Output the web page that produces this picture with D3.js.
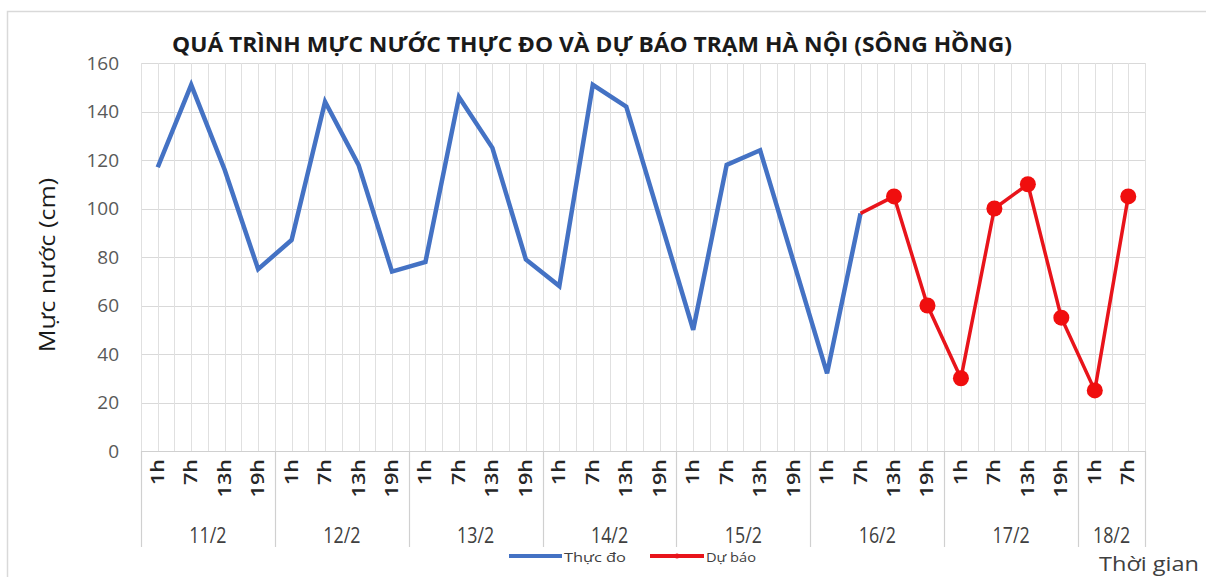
<!DOCTYPE html>
<html>
<head>
<meta charset="utf-8">
<script src="https://cdn.jsdelivr.net/npm/d3@7"></script>
<style>
  body { margin: 0; background: #fff; }
  svg { display: block; font-family: "Open Sans", sans-serif; }
</style>
</head>
<body>
<svg id="chart"></svg>
<script>
var days = ["11/2", "12/2", "13/2", "14/2", "15/2", "16/2", "17/2", "18/2"];
var hours = ["1h", "7h", "13h", "19h"];
// last day only has 1h and 7h
var hoursPerDay = [4, 4, 4, 4, 4, 4, 4, 2];

// Thực đo (observed), from 11/2 1h to 16/2 7h
var observed = [117, 151, 116, 75, 87, 144, 118, 74, 78, 146, 125, 79,
  68, 151, 142, 96, 50, 118, 124, 78, 32, 98];
// Dự báo (forecast), from 16/2 7h to 18/2 7h
var forecastStart = 21;
var forecast = [98, 105, 60, 30, 100, 110, 55, 25, 105];

var yTicks = [0, 20, 40, 60, 80, 100, 120, 140, 160];

var width = 1206, height = 577;
var svg = d3.select("#chart").attr("width", width).attr("height", height);

// build category list
var cats = [];
days.forEach(function (d, i) {
  for (var h = 0; h < hoursPerDay[i]; h++) {
    cats.push({ id: d + " " + hours[h], day: d, hour: hours[h], dayIndex: i });
  }
});

var plotLeft = 141, plotRight = 1145, plotTop = 63, plotBottom = 451;

var x = d3.scaleBand().domain(cats.map(function (c) { return c.id })).range([plotLeft, plotRight]).padding(0);
var bw = x.bandwidth();
var cx = function (i) { return x(cats[i].id) + bw / 2 };
var y = d3.scaleLinear().domain([0, 160]).range([plotBottom, plotTop]);

// frame
svg.append("rect")
  .attr("x", 7.5).attr("y", 11.5)
  .attr("width", width + 10).attr("height", height + 10)
  .attr("fill", "none").attr("stroke", "#d9d9d9").attr("stroke-width", 1.5);

// horizontal gridlines
svg.append("g").selectAll("line")
  .data(yTicks.filter(function (t) { return t > 0 }))
  .enter().append("line")
  .attr("x1", plotLeft).attr("x2", plotRight)
  .attr("y1", function (t) { return Math.round(y(t)) + 0.5 })
  .attr("y2", function (t) { return Math.round(y(t)) + 0.5 })
  .attr("stroke", "#d9d9d9").attr("stroke-width", 1);

// vertical gridlines at band edges and centers
var vgrid = [];
for (var i = 0; i <= cats.length * 2; i++) vgrid.push(plotLeft + i * bw / 2);
svg.append("g").selectAll("line")
  .data(vgrid)
  .enter().append("line")
  .attr("x1", function (v) { return Math.round(v) + 0.5 })
  .attr("x2", function (v) { return Math.round(v) + 0.5 })
  .attr("y1", plotTop).attr("y2", plotBottom)
  .attr("stroke", "#e0e0e0").attr("stroke-width", 1);

// y axis labels
svg.append("g").selectAll("text")
  .data(yTicks)
  .enter().append("text")
  .attr("x", 119)
  .attr("y", function (t) { return y(t) })
  .attr("dy", "0.35em")
  .attr("text-anchor", "end")
  .attr("font-size", 19)
  .attr("fill", "#595959")
  .text(function (t) { return t });

// category axis line
svg.append("line")
  .attr("x1", plotLeft).attr("x2", plotRight)
  .attr("y1", plotBottom + 0.5).attr("y2", plotBottom + 0.5)
  .attr("stroke", "#d0d0d0").attr("stroke-width", 1.2);

// group separators
var seps = [0];
var acc = 0;
hoursPerDay.forEach(function (n) { acc += n; seps.push(acc) });
svg.append("g").selectAll("line")
  .data(seps)
  .enter().append("line")
  .attr("x1", function (s) { return Math.round(plotLeft + s * bw) + 0.5 })
  .attr("x2", function (s) { return Math.round(plotLeft + s * bw) + 0.5 })
  .attr("y1", plotBottom).attr("y2", 547)
  .attr("stroke", "#d0d0d0").attr("stroke-width", 1.2);

// hour labels (rotated, a bit stretched along the text like the source)
svg.append("g").selectAll("text")
  .data(cats)
  .enter().append("text")
  .attr("transform", function (c, i) { return "translate(" + (cx(i) + 6) + "," + 459 + ") rotate(-90) scale(1.2,1)" })
  .attr("text-anchor", "end")
  .attr("font-size", 18)
  .attr("font-weight", 600)
  .attr("fill", "#262626")
  .text(function (c) { return c.hour });

// day labels
svg.append("g").selectAll("text")
  .data(days)
  .enter().append("text")
  .attr("transform", function (d, i) {
    return "translate(" + (plotLeft + (seps[i] + seps[i + 1]) / 2 * bw) + ",543) scale(0.85,1)";
  })
  .attr("text-anchor", "middle")
  .attr("font-size", 21)
  .attr("fill", "#404040")
  .text(function (d) { return d });

// lines
var line = d3.line()
  .x(function (d) { return cx(d.i) })
  .y(function (d) { return y(d.v) });

var obsData = observed.map(function (v, i) { return { i: i, v: v } });
var fcData = forecast.map(function (v, i) { return { i: i + forecastStart, v: v } });

svg.append("path")
  .datum(obsData)
  .attr("d", line)
  .attr("fill", "none")
  .attr("stroke", "#4472c4")
  .attr("stroke-width", 4.5);

svg.append("path")
  .datum(fcData)
  .attr("d", line)
  .attr("fill", "none")
  .attr("stroke", "#e8141b")
  .attr("stroke-width", 3.5);

svg.append("g").selectAll("circle")
  .data(fcData.slice(1))
  .enter().append("circle")
  .attr("cx", function (d) { return cx(d.i) })
  .attr("cy", function (d) { return y(d.v) })
  .attr("r", 8)
  .attr("fill", "#f00e0e");

// title
svg.append("text")
  .attr("x", 592).attr("y", 52)
  .attr("text-anchor", "middle")
  .attr("font-size", 21)
  .attr("font-weight", "bold")
  .attr("fill", "#1a1a1a")
  .attr("textLength", 840)
  .attr("lengthAdjust", "spacingAndGlyphs")
  .text("QUÁ TRÌNH MỰC NƯỚC THỰC ĐO VÀ DỰ BÁO TRẠM HÀ NỘI (SÔNG HỒNG)");

// y axis title
svg.append("text")
  .attr("transform", "translate(55,265) rotate(-90) scale(1.2,1)")
  .attr("text-anchor", "middle")
  .attr("font-size", 21)
  .attr("fill", "#1a1a1a")
  .text("Mực nước (cm)");

// x axis title
svg.append("text")
  .attr("x", 1099).attr("y", 571)
  .attr("font-size", 20)
  .attr("fill", "#404040")
  .attr("textLength", 100)
  .attr("lengthAdjust", "spacingAndGlyphs")
  .text("Thời gian");

// legend
var legend = svg.append("g");
legend.append("rect")
  .attr("x", 500).attr("y", 548).attr("width", 270).attr("height", 22)
  .attr("fill", "#fff");
legend.append("line")
  .attr("x1", 509).attr("x2", 562).attr("y1", 556).attr("y2", 556)
  .attr("stroke", "#4472c4").attr("stroke-width", 4);
legend.append("text")
  .attr("x", 564).attr("y", 562)
  .attr("font-size", 13).attr("fill", "#404040")
  .attr("textLength", 62)
  .attr("lengthAdjust", "spacingAndGlyphs")
  .text("Thực đo");
legend.append("line")
  .attr("x1", 650).attr("x2", 704).attr("y1", 556).attr("y2", 556)
  .attr("stroke", "#e8141b").attr("stroke-width", 4);
legend.append("circle")
  .attr("cx", 677).attr("cy", 556).attr("r", 2.5)
  .attr("fill", "#e8141b");
legend.append("text")
  .attr("x", 706).attr("y", 562)
  .attr("font-size", 13).attr("fill", "#404040")
  .attr("textLength", 50)
  .attr("lengthAdjust", "spacingAndGlyphs")
  .text("Dự báo");
</script>
</body>
</html>
